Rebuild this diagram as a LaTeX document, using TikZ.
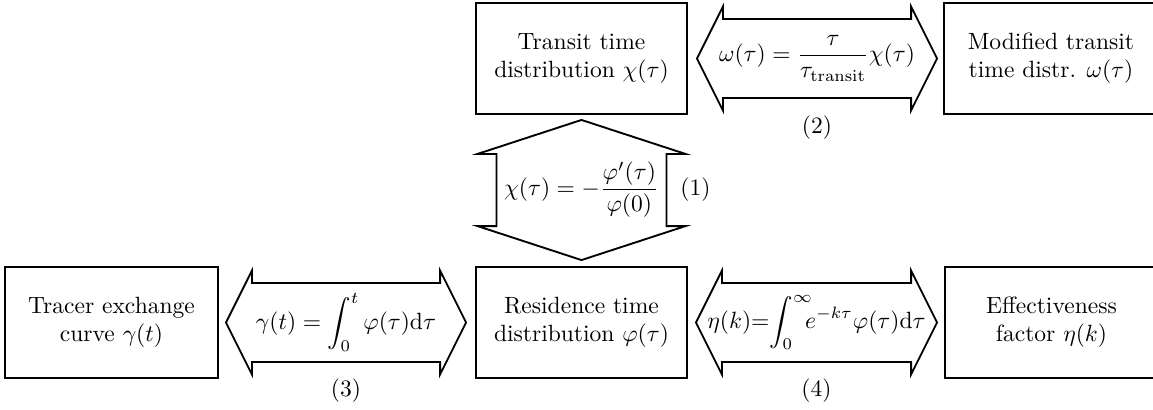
\documentclass[tikz,border=0pt]{standalone}
\usetikzlibrary{calc}
\begin{document}
\begin{tikzpicture}[x=0.425pt,y=-0.425pt,
  box/.style={draw,line width=0.8pt,align=center,inner sep=0pt,
    minimum height=111*0.425pt},
  bigarrow/.style={draw,line width=0.8pt,line join=miter},
  eqlabel/.style={inner sep=0pt}]
\useasboundingbox (0,0) rectangle (1153,409);
% boxes
\node[box,minimum width=211*0.425pt] (transit) at (581.5,58.5) {Transit time\\distribution $\chi(\tau)$};
\node[box,minimum width=214*0.425pt] (modified) at (1051,58.5) {Modified transit\\time distr. $\omega(\tau)$};
\node[box,minimum width=213*0.425pt] (tracer) at (111.5,322.5) {Tracer exchange\\curve $\gamma(t)$};
\node[box,minimum width=211*0.425pt] (residence) at (581.5,322.5) {Residence time\\distribution $\varphi(\tau)$};
\node[box,minimum width=213*0.425pt] (effect) at (1051.5,322.5) {Effectiveness\\factor $\eta(k)$};
% horizontal double arrows
\newcommand\hdarrow[2]{%
  \draw[bigarrow] (#1) -- ++(26,-52) -- ++(0,12.5) -- ($(#2)+(-26,-39.5)$)
    -- ++(0,-12.5) -- (#2) -- ++(-26,52) -- ++(0,-12.5)
    -- ($(#1)+(26,39.5)$) -- ++(0,12.5) -- cycle;}
\coordinate (a2l) at ($(transit.east)+(9,0)$);
\coordinate (a2r) at ($(modified.west)+(-6,0)$);
\coordinate (a3l) at ($(tracer.east)+(7,0)$);
\coordinate (a3r) at ($(residence.west)+(-9,0)$);
\coordinate (a4l) at ($(residence.east)+(8,0)$);
\coordinate (a4r) at ($(effect.west)+(-7,0)$);
\hdarrow{a2l}{a2r}
\hdarrow{a3l}{a3r}
\hdarrow{a4l}{a4r}
% vertical double arrow
\coordinate (vt) at ($(transit.south)+(0,5)$);
\coordinate (vb) at ($(residence.north)+(0,-6)$);
\draw[bigarrow] (vt) -- ++(104,34) -- ++(-19,0) -- ($(vb)+(85,-34)$) -- ++(19,0)
  -- (vb) -- ++(-104,-34) -- ++(19,0) -- ($(vt)+(-85,34)$) -- ++(-19,0) -- cycle;
% equations
\node[eqlabel] (eq2) at ($(a2l)!0.5!(a2r)$) {$\displaystyle \omega(\tau)=\frac{\tau}{\tau_{\mathrm{transit}}}\chi(\tau)$};
\node[eqlabel] (eq3) at ($(a3l)!0.5!(a3r)$) {$\displaystyle \gamma(t)=\int_0^t\varphi(\tau)\mathrm{d}\tau$};
\node[eqlabel] (eq4) at ($(a4l)!0.5!(a4r)$) {$\displaystyle \eta(k){=}\!\int_0^{\infty}\!\!\! e^{-k\tau}\varphi(\tau)\mathrm{d}\tau$};
\node[eqlabel] (eq1) at ($(vt)!0.5!(vb)$) {$\displaystyle \chi(\tau)=-\frac{\varphi'(\tau)}{\varphi(0)}$};
% numbers
\node[eqlabel] (n1) at ($(vt)!0.5!(vb)+(114,0)$) {(1)};
\node[eqlabel] (n2) at ($(a2l)!0.5!(a2r)+(0,69)$) {(2)};
\node[eqlabel] (n3) at ($(a3l)!0.5!(a3r)+(0,68)$) {(3)};
\node[eqlabel] (n4) at ($(a4l)!0.5!(a4r)+(0,68)$) {(4)};
\end{tikzpicture}
\end{document}
